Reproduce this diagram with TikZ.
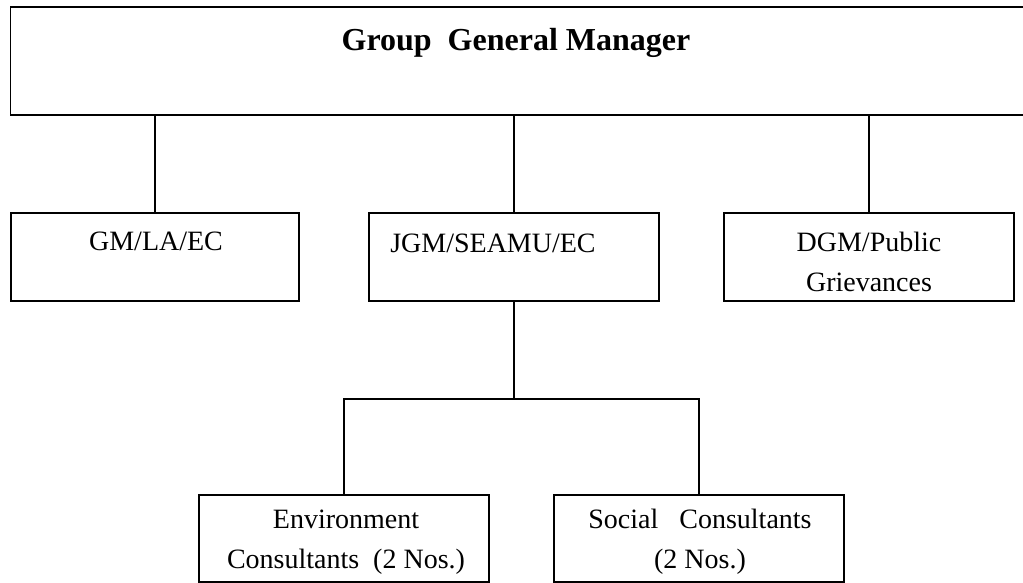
\documentclass[tikz,border=0pt]{standalone}
\usepackage{fontspec}
\setmainfont{Liberation Serif}
\tikzset{
  post/.style={draw, line width=1.5pt, inner sep=0pt},
  lbl/.style={font=\fontsize{28}{40}\selectfont, align=center, inner sep=0pt},
  wire/.style={line width=1.5pt}
}
\begin{document}
\begin{tikzpicture}[x=1pt, y=-1pt]
  \useasboundingbox (0,0) rectangle (1023,583);
  \node[post, minimum width=1020pt, minimum height=108pt] (ggm) at (520.5,61) {};
  \node[post, minimum width=288pt, minimum height=88pt] (gm) at (155,257) {};
  \node[post, minimum width=290pt, minimum height=88pt] (jgm) at (514,257) {};
  \node[post, minimum width=290pt, minimum height=88pt] (dgm) at (869,257) {};
  \node[post, minimum width=290pt, minimum height=87pt] (env) at (344,538.5) {};
  \node[post, minimum width=290pt, minimum height=87pt] (soc) at (699,538.5) {};

  \node[lbl, font=\fontsize{32}{40}\selectfont\bfseries] (tggm) at (516,43) {Group\ \ General Manager};
  \node[lbl] (tgm) at (156,241) {GM/LA/EC};
  \node[lbl] (tjgm) at (493,243) {JGM/SEAMU/EC};
  \node[lbl] (tdgm) at (869,262) {DGM/Public\\Grievances};
  \node[lbl] (tenv) at (346,542) {Environment\\Consultants\ \ (2 Nos.)};
  \node[lbl] (tsoc) at (700,542) {Social\ \ \ Consultants\\(2 Nos.)};

  \draw[wire] (gm.north) -- (gm.north |- ggm.south);
  \draw[wire] (jgm.north) -- (jgm.north |- ggm.south);
  \draw[wire] (dgm.north) -- (dgm.north |- ggm.south);
  \coordinate (split) at ([yshift=-97pt]jgm.south);
  \draw[wire] (jgm.south) -- (split);
  \draw[wire] (env.north) |- (split) -| (soc.north);
\end{tikzpicture}
\end{document}
